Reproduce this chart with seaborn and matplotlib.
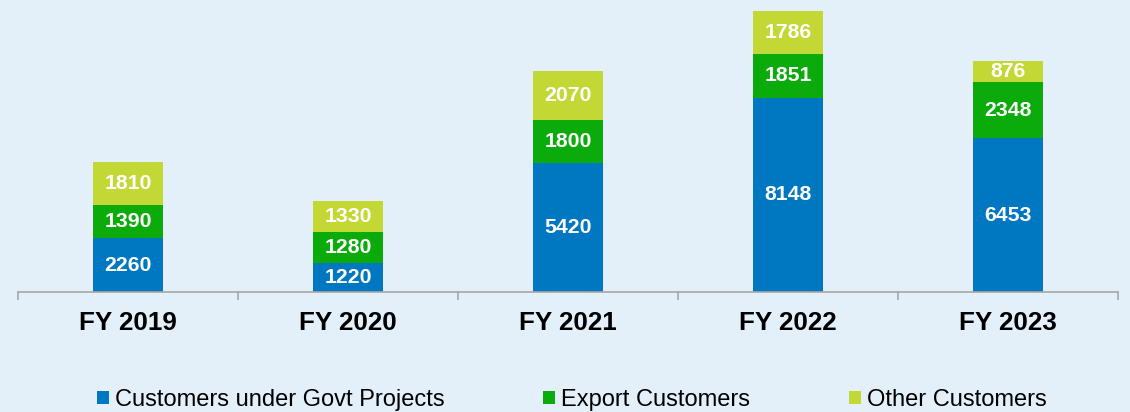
import numpy as np
import pandas as pd
import matplotlib
matplotlib.use('Agg')
import matplotlib.pyplot as plt
import seaborn as sns
from matplotlib.patches import Patch

# Data
years = ['FY 2019', 'FY 2020', 'FY 2021', 'FY 2022', 'FY 2023']
govt = [2260, 1220, 5420, 8148, 6453]
export = [1390, 1280, 1800, 1851, 2348]
other = [1810, 1330, 2070, 1786, 876]

series_names = ['Customers under Govt Projects', 'Export Customers', 'Other Customers']
colors = ['#0077C1', '#0AAB0A', '#C3D835']
bg = '#E4F0F9'

sns.set_theme(style='white')
plt.rcParams['font.family'] = ['Liberation Sans', 'DejaVu Sans']

df = pd.DataFrame({'year': years, 'govt': govt, 'export': export, 'other': other})
df['c1'] = df['govt']
df['c2'] = df['govt'] + df['export']
df['c3'] = df['c2'] + df['other']

fig = plt.figure(figsize=(11.3, 4.12), dpi=100, facecolor=bg)
ax = fig.add_axes([18 / 1130, 120 / 412, 1100 / 1130, 292 / 412])
ax.set_facecolor(bg)

# stacked bars drawn as overlapping cumulative totals
for col, c in zip(['c3', 'c2', 'c1'], colors[::-1]):
    sns.barplot(data=df, x='year', y=col, color=c, width=0.32, ax=ax,
                saturation=1, edgecolor='none', linewidth=0)

# segment labels
for i in range(len(years)):
    bottoms = [0, df['c1'][i], df['c2'][i]]
    vals = [govt[i], export[i], other[i]]
    for b, v in zip(bottoms, vals):
        ax.text(i, b + v / 2, str(v), ha='center', va='center', color='white',
                fontsize=15.3, fontweight='bold')

ax.set_xlim(-0.5, 4.5)
ax.set_ylim(0, 12250)
ax.set_xlabel('')
ax.set_ylabel('')
ax.set_yticks([])

for s in ['top', 'right', 'left']:
    ax.spines[s].set_visible(False)
ax.spines['bottom'].set_color('#A6A6A6')
ax.spines['bottom'].set_linewidth(1.2)

ax.set_xticks(np.arange(-0.5, 5, 1))
ax.set_xticklabels([])
ax.tick_params(axis='x', which='major', direction='out', length=6, width=1.2,
               color='#A6A6A6', bottom=True)
ax.set_xticks(np.arange(5), minor=True)
ax.set_xticklabels(years, minor=True, fontsize=18.7, fontweight='bold', color='black')
ax.tick_params(axis='x', which='minor', length=0, pad=14)

handles = [Patch(facecolor=c, edgecolor='none', label=n) for c, n in zip(colors, series_names)]
leg = fig.legend(handles=handles, loc='center', bbox_to_anchor=(0.506, 0.03), ncol=3,
                 frameon=False, fontsize=17, handlelength=0.5, handleheight=0.5,
                 handletextpad=0.25, columnspacing=4.2)
for t in leg.get_texts():
    t.set_color('black')

fig.savefig('out.png', dpi=100, facecolor=bg)
